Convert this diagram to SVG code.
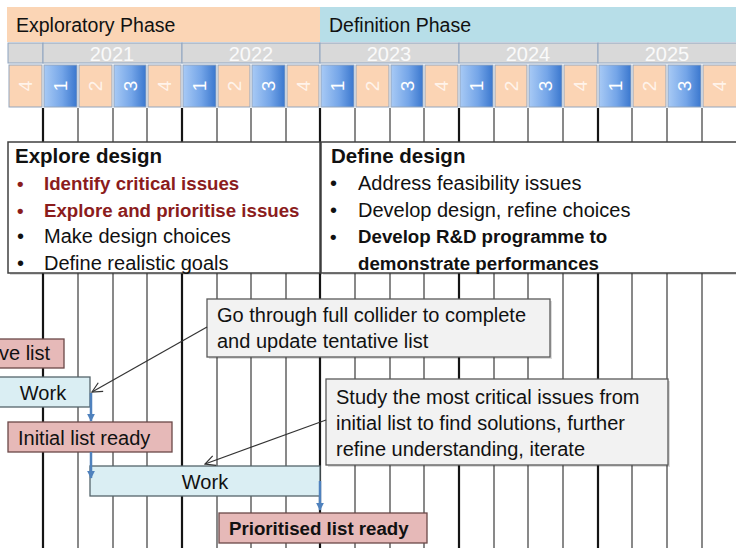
<svg xmlns="http://www.w3.org/2000/svg" width="736" height="548" viewBox="0 0 736 548">
<defs>
<linearGradient id="qblue" x1="0" y1="0" x2="1" y2="0">
<stop offset="0" stop-color="#A8CAF5"/>
<stop offset="0.55" stop-color="#74A5E8"/>
<stop offset="1" stop-color="#3A77CE"/>
</linearGradient>
<marker id="open" viewBox="0 0 12 12" refX="11" refY="6" markerWidth="12" markerHeight="12" markerUnits="userSpaceOnUse" orient="auto">
<path d="M1,1 L11,6 L1,11" fill="none" stroke="#333" stroke-width="1.2"/>
</marker>
<marker id="blue" viewBox="0 0 10 10" refX="9" refY="5" markerWidth="8" markerHeight="8" markerUnits="userSpaceOnUse" orient="auto">
<path d="M0,0 L10,5 L0,10 z" fill="#4F81BD"/>
</marker>
</defs>
<style>
text{font-family:"Liberation Sans",Arial,sans-serif;fill:#111}
.phase{font-size:19.5px}
.year{font-size:20px;fill:#FAFAFA;text-anchor:middle}
.q{font-size:19px;text-anchor:middle}
.qo{fill:#FFF3EA}
.qb{fill:#FFFFFF}
.cellO{fill:#FBD4B4;stroke:#93A6BE;stroke-width:1}
.cellB{fill:url(#qblue);stroke:#93A6BE;stroke-width:1}
.yr{fill:#D9D9D9;stroke:#8EA4C0;stroke-width:1}
.grid{stroke:#4A4A4A;stroke-width:1.3}
.gridT{stroke:#151515;stroke-width:2.2}
.title{font-size:20.5px;font-weight:bold}
.reg{font-size:20px}
.bold{font-size:18.7px;font-weight:bold}
.red{fill:#8B1C1C}
.box{fill:#FFFFFF;stroke:#404040;stroke-width:1.5}
.note{fill:#F2F2F2;stroke:#595959;stroke-width:1.3}
.shadow{fill:#000;opacity:0.14}
.pink{fill:#E6B9B8;stroke:#6B4848;stroke-width:1.3}
.work{fill:#DAEEF3;stroke:#55656B;stroke-width:1.3}
.conn{stroke:#333;stroke-width:1.2;fill:none}
.bconn{stroke:#4F81BD;stroke-width:2.5;fill:none}
</style>

<g id="phases">
<rect x="7" y="7" width="313" height="35" fill="#FBD5B5"/>
<rect x="320" y="7" width="416" height="35" fill="#B7DEE8"/>
<text class="phase" x="16" y="32">Exploratory Phase</text>
<text class="phase" x="329" y="32">Definition Phase</text>
</g>

<g id="years">
<rect class="yr" x="8" y="43" width="35" height="20"/>
<rect class="yr" x="43" y="43" width="139" height="20"/>
<rect class="yr" x="182" y="43" width="138" height="20"/>
<rect class="yr" x="320" y="43" width="139" height="20"/>
<rect class="yr" x="459" y="43" width="139" height="20"/>
<rect class="yr" x="598" y="43" width="140" height="20"/>
<text class="year" x="112" y="61">2021</text>
<text class="year" x="251" y="61">2022</text>
<text class="year" x="389" y="61">2023</text>
<text class="year" x="528" y="61">2024</text>
<text class="year" x="667" y="61">2025</text>
</g>

<g id="quarters">
<rect class="cellO" x="9" y="65" width="33" height="42"/>
<rect class="cellB" x="44" y="65" width="33" height="42"/>
<rect class="cellO" x="79" y="65" width="33" height="42"/>
<rect class="cellB" x="114" y="65" width="32" height="42"/>
<rect class="cellO" x="148" y="65" width="33" height="42"/>
<rect class="cellB" x="183" y="65" width="33" height="42"/>
<rect class="cellO" x="218" y="65" width="32" height="42"/>
<rect class="cellB" x="252" y="65" width="33" height="42"/>
<rect class="cellO" x="287" y="65" width="32" height="42"/>
<rect class="cellB" x="321" y="65" width="33" height="42"/>
<rect class="cellO" x="356" y="65" width="33" height="42"/>
<rect class="cellB" x="391" y="65" width="32" height="42"/>
<rect class="cellO" x="425" y="65" width="33" height="42"/>
<rect class="cellB" x="460" y="65" width="33" height="42"/>
<rect class="cellO" x="495" y="65" width="32" height="42"/>
<rect class="cellB" x="529" y="65" width="33" height="42"/>
<rect class="cellO" x="564" y="65" width="33" height="42"/>
<rect class="cellB" x="599" y="65" width="32" height="42"/>
<rect class="cellO" x="633" y="65" width="33" height="42"/>
<rect class="cellB" x="668" y="65" width="33" height="42"/>
<rect class="cellO" x="703" y="65" width="34" height="42"/>
<text class="q qo" transform="translate(25.5,86) rotate(-90)" dy="0.35em">4</text>
<text class="q qb" transform="translate(60.5,86) rotate(-90)" dy="0.35em">1</text>
<text class="q qo" transform="translate(95.5,86) rotate(-90)" dy="0.35em">2</text>
<text class="q qb" transform="translate(130,86) rotate(-90)" dy="0.35em">3</text>
<text class="q qo" transform="translate(164.5,86) rotate(-90)" dy="0.35em">4</text>
<text class="q qb" transform="translate(199.5,86) rotate(-90)" dy="0.35em">1</text>
<text class="q qo" transform="translate(234,86) rotate(-90)" dy="0.35em">2</text>
<text class="q qb" transform="translate(268.5,86) rotate(-90)" dy="0.35em">3</text>
<text class="q qo" transform="translate(303,86) rotate(-90)" dy="0.35em">4</text>
<text class="q qb" transform="translate(337.5,86) rotate(-90)" dy="0.35em">1</text>
<text class="q qo" transform="translate(372.5,86) rotate(-90)" dy="0.35em">2</text>
<text class="q qb" transform="translate(407,86) rotate(-90)" dy="0.35em">3</text>
<text class="q qo" transform="translate(441.5,86) rotate(-90)" dy="0.35em">4</text>
<text class="q qb" transform="translate(476.5,86) rotate(-90)" dy="0.35em">1</text>
<text class="q qo" transform="translate(511,86) rotate(-90)" dy="0.35em">2</text>
<text class="q qb" transform="translate(545.5,86) rotate(-90)" dy="0.35em">3</text>
<text class="q qo" transform="translate(580.5,86) rotate(-90)" dy="0.35em">4</text>
<text class="q qb" transform="translate(615,86) rotate(-90)" dy="0.35em">1</text>
<text class="q qo" transform="translate(649.5,86) rotate(-90)" dy="0.35em">2</text>
<text class="q qb" transform="translate(684.5,86) rotate(-90)" dy="0.35em">3</text>
<text class="q qo" transform="translate(719,86) rotate(-90)" dy="0.35em">4</text>
</g>

<g id="grid">
<line class="gridT" x1="43" y1="108" x2="43" y2="548"/>
<line class="grid" x1="78" y1="108" x2="78" y2="548"/>
<line class="grid" x1="113" y1="108" x2="113" y2="548"/>
<line class="grid" x1="147" y1="108" x2="147" y2="548"/>
<line class="gridT" x1="182" y1="108" x2="182" y2="548"/>
<line class="grid" x1="217" y1="108" x2="217" y2="548"/>
<line class="grid" x1="251" y1="108" x2="251" y2="548"/>
<line class="grid" x1="286" y1="108" x2="286" y2="548"/>
<line class="gridT" x1="320" y1="108" x2="320" y2="548"/>
<line class="grid" x1="355" y1="108" x2="355" y2="548"/>
<line class="grid" x1="390" y1="108" x2="390" y2="548"/>
<line class="grid" x1="424" y1="108" x2="424" y2="548"/>
<line class="gridT" x1="459" y1="108" x2="459" y2="548"/>
<line class="grid" x1="494" y1="108" x2="494" y2="548"/>
<line class="grid" x1="528" y1="108" x2="528" y2="548"/>
<line class="grid" x1="563" y1="108" x2="563" y2="548"/>
<line class="gridT" x1="598" y1="108" x2="598" y2="548"/>
<line class="grid" x1="632" y1="108" x2="632" y2="548"/>
<line class="grid" x1="667" y1="108" x2="667" y2="548"/>
<line class="grid" x1="702" y1="108" x2="702" y2="548"/>
</g>

<g id="explore-design">
<rect class="shadow" x="10" y="144" width="312" height="131"/>
<rect class="box" x="8" y="142" width="312" height="131"/>
<text class="title" x="15" y="163">Explore design</text>
<text class="bold red" x="17" y="190">•</text>
<text class="bold red" x="44" y="190">Identify critical issues</text>
<text class="bold red" x="17" y="217">•</text>
<text class="bold red" x="44" y="217">Explore and prioritise issues</text>
<text class="reg" x="17" y="243">•</text>
<text class="reg" x="44" y="243">Make design choices</text>
<text class="reg" x="17" y="270">•</text>
<text class="reg" x="44" y="270">Define realistic goals</text>
</g>

<g id="define-design">
<rect class="shadow" x="323" y="144" width="420" height="131"/>
<rect class="box" x="321" y="142" width="420" height="131"/>
<text class="title" x="331" y="163">Define design</text>
<text class="reg" x="330" y="190">•</text>
<text class="reg" x="358" y="190">Address feasibility issues</text>
<text class="reg" x="330" y="217">•</text>
<text class="reg" x="358" y="217">Develop design, refine choices</text>
<text class="bold" x="330" y="243">•</text>
<text class="bold" x="358" y="243">Develop R&amp;D programme to</text>
<text class="bold" x="358" y="270">demonstrate performances</text>
</g>

<g id="note-collider">
<rect class="shadow" x="209" y="301" width="343" height="58"/>
<rect class="note" x="207" y="299" width="343" height="58"/>
<text class="reg" x="217" y="322">Go through full collider to complete</text>
<text class="reg" x="217" y="348">and update tentative list</text>
</g>

<g id="tentative-list">
<rect class="pink" x="-2" y="339" width="66" height="29"/>
<text class="reg" x="-1" y="360">ve list</text>
</g>

<g id="work1">
<rect class="work" x="-2" y="377" width="92" height="30"/>
<text class="reg" x="43" y="400" text-anchor="middle">Work</text>
</g>

<g id="note-study">
<rect class="shadow" x="328" y="381" width="342" height="86"/>
<rect class="note" x="326" y="379" width="342" height="86"/>
<text class="reg" x="336" y="404">Study the most critical issues from</text>
<text class="reg" x="336" y="430">initial list to find solutions, further</text>
<text class="reg" x="336" y="456">refine understanding, iterate</text>
</g>

<g id="initial-list">
<rect class="pink" x="8" y="422" width="164" height="30"/>
<text class="reg" x="18" y="445">Initial list ready</text>
</g>

<g id="work2">
<rect class="work" x="90" y="466" width="230" height="30"/>
<text class="reg" x="205" y="489" text-anchor="middle">Work</text>
</g>

<g id="prioritised-list">
<rect class="pink" x="219" y="513" width="208" height="30"/>
<text class="bold" x="229" y="535">Prioritised list ready</text>
</g>

<g id="connectors">
<line class="conn" x1="207" y1="327" x2="92" y2="392" marker-end="url(#open)"/>
<line class="conn" x1="326" y1="420" x2="205" y2="464" marker-end="url(#open)"/>
<line class="bconn" x1="91" y1="393" x2="91" y2="421" marker-end="url(#blue)"/>
<line class="bconn" x1="91" y1="452" x2="91" y2="478" marker-end="url(#blue)"/>
<line class="bconn" x1="320" y1="481" x2="320" y2="510" marker-end="url(#blue)"/>
</g>
</svg>
